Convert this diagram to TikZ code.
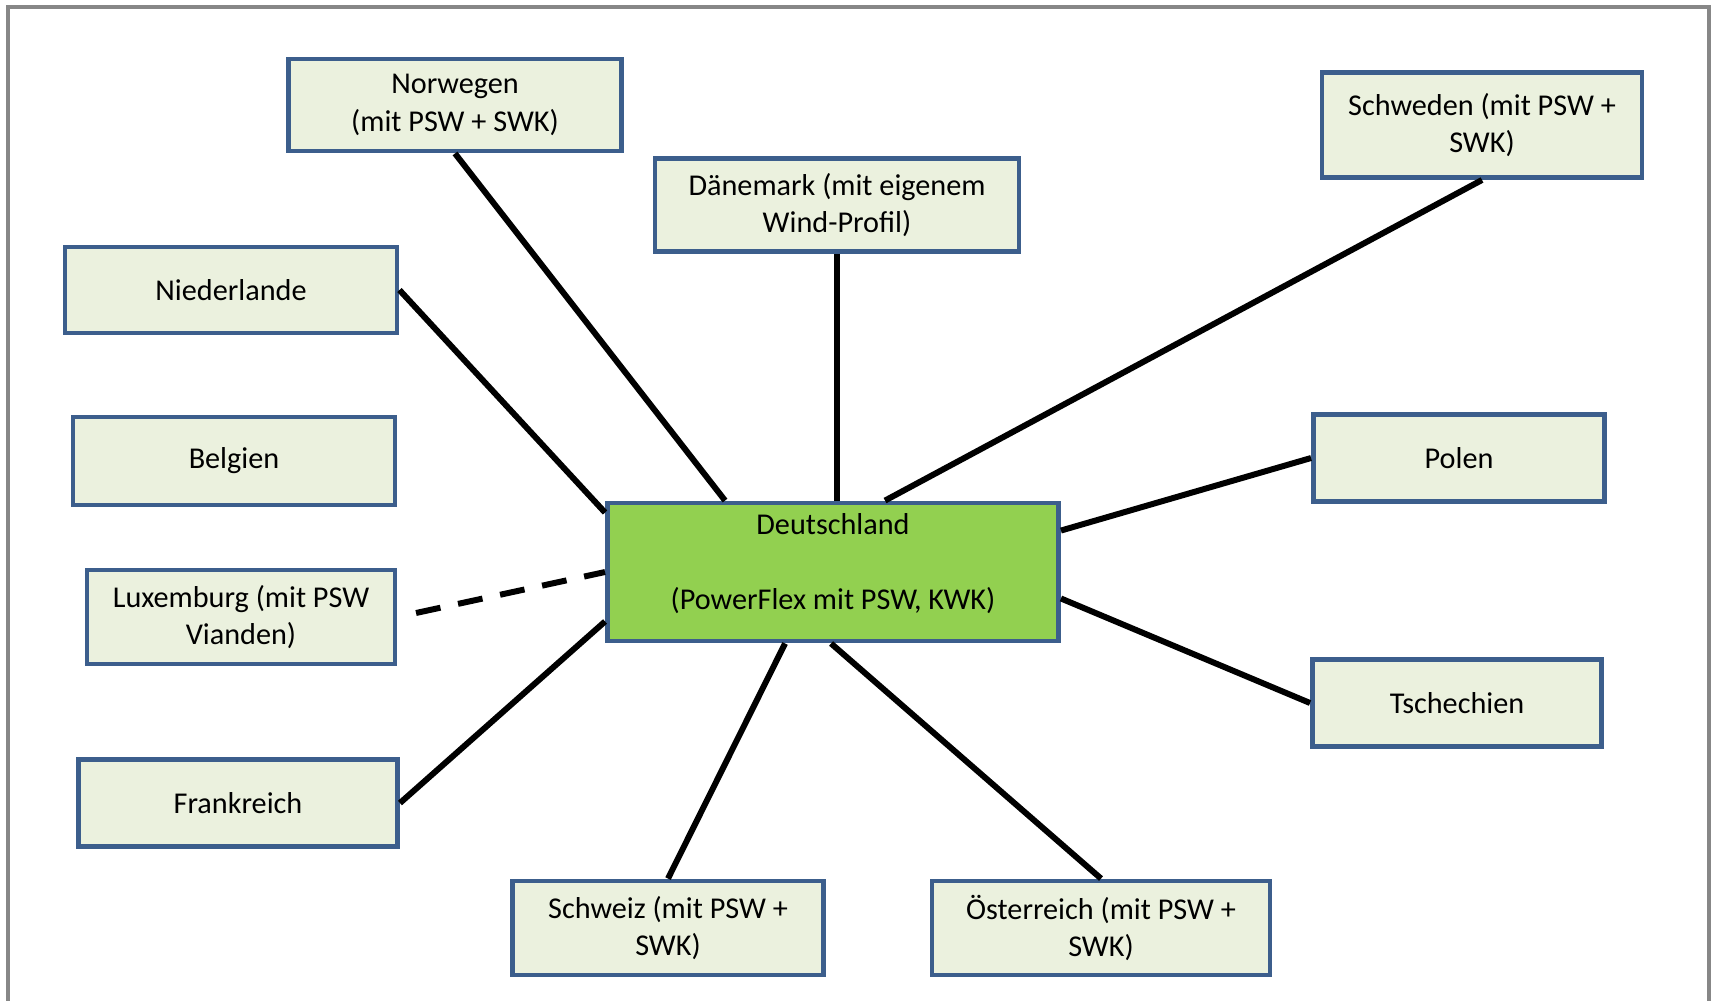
\documentclass[tikz,border=0pt]{standalone}
\usepackage{fontspec}
\setmainfont{Carlito}
\usetikzlibrary{calc}
\definecolor{boxblue}{RGB}{60,94,140}
\definecolor{boxfill}{RGB}{235,241,222}
\definecolor{hubgreen}{RGB}{146,208,80}
\definecolor{framegray}{RGB}{135,135,135}
\begin{document}
\begin{tikzpicture}[x=0.1mm, y=-0.1mm,
	landbox/.style={draw=boxblue, line width=1.4pt, fill=boxfill, align=center,
		inner sep=0pt, font=\fontsize{8.6}{10.6}\selectfont},
	hubbox/.style={landbox, fill=hubgreen},
	link/.style={line width=1.7pt, black}]

	\useasboundingbox (0,0) rectangle (1717,1000);
	\draw [framegray, line width=1pt] (8,1010) -- (8,7) -- (1709,7) -- (1709,1010);

	\node[hubbox, minimum width=45.1mm, minimum height=13.8mm, text depth=6pt] (de) at (833,572)
		{Deutschland\\~\\(PowerFlex mit PSW, KWK)};

	\node[landbox, minimum width=33.3mm, minimum height=9.2mm] (nor) at (455,105) {Norwegen\\(mit PSW + SWK)};
	\node[landbox, minimum width=36.4mm, minimum height=9.3mm] (dk) at (837,205) {Dänemark (mit eigenem\\Wind-Profil)};
	\node[landbox, minimum width=32.0mm, minimum height=10.5mm] (sw) at (1482,125) {Schweden (mit PSW +\\SWK)};
	\node[landbox, minimum width=33.2mm, minimum height=8.6mm] (nl) at (231,290) {Niederlande};
	\node[landbox, minimum width=32.2mm, minimum height=8.8mm] (be) at (234,461) {Belgien};
	\node[landbox, minimum width=30.8mm, minimum height=9.4mm] (lux) at (241,617) {Luxemburg (mit PSW\\Vianden)};
	\node[landbox, minimum width=31.9mm, minimum height=8.7mm] (fr) at (238,803) {Frankreich};
	\node[landbox, minimum width=29.1mm, minimum height=8.7mm] (pl) at (1459,458) {Polen};
	\node[landbox, minimum width=28.9mm, minimum height=8.7mm] (cz) at (1457,703) {Tschechien};
	\node[landbox, minimum width=31.1mm, minimum height=9.4mm] (ch) at (668,928) {Schweiz (mit PSW +\\SWK)};
	\node[landbox, minimum width=33.8mm, minimum height=9.4mm] (at) at (1101,928) {Österreich (mit PSW +\\SWK)};

	% Verbindungen zu Deutschland
	\draw [link] (nor.south) -- ($(de.north west)+(120,0)$);
	\draw [link] (dk.south) -- (dk.south |- de.north);
	\draw [link] (sw.south) -- ($(de.north west)+(280,0)$);
	\draw [link] (nl.east) -- ($(de.north west)+(0,12)$);
	\draw [link, dash pattern=on 2.5mm off 1.8mm, shorten <=1.9mm] (lux.east) -- (de.west);
	\draw [link] (fr.east) -- ($(de.south west)+(0,-22)$);
	\draw [link] (ch.north) -- ($(de.south west)+(180,0)$);
	\draw [link] (at.north) -- ($(de.south west)+(226,0)$);
	\draw [link] (pl.west) -- ($(de.north east)+(0,30)$);
	\draw [link] (cz.west) -- ($(de.south east)+(0,-45)$);
\end{tikzpicture}
\end{document}
